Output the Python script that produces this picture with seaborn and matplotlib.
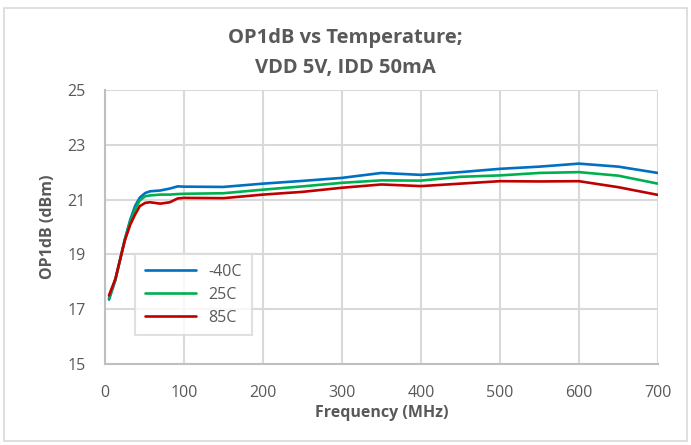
import matplotlib.pyplot as plt
import numpy as np
import pandas as pd
import seaborn as sns

freq = [5, 13, 19, 25, 32, 38, 44, 51, 57, 70, 82, 92, 100, 150, 200, 250,
        300, 350, 400, 450, 500, 550, 600, 650, 700]
t_m40 = [17.35, 18.05, 18.8, 19.55, 20.27, 20.76, 21.07, 21.24, 21.3, 21.33, 21.4, 21.48, 21.47,
         21.46, 21.58, 21.68, 21.79, 21.97, 21.9, 22.0, 22.12, 22.2, 22.31, 22.2, 21.97]
t_25 = [17.4, 18.07, 18.8, 19.52, 20.2, 20.64, 20.97, 21.12, 21.15, 21.18, 21.18, 21.2, 21.21,
        21.23, 21.36, 21.48, 21.61, 21.7, 21.69, 21.83, 21.88, 21.97, 22.0, 21.87, 21.58]
t_85 = [17.5, 18.1, 18.8, 19.5, 20.09, 20.45, 20.76, 20.88, 20.9, 20.85, 20.9, 21.04, 21.06,
        21.05, 21.18, 21.28, 21.43, 21.55, 21.49, 21.58, 21.67, 21.66, 21.67, 21.45, 21.17]
labels = ['-40C', '25C', '85C']
colors = ['#0070C0', '#00B050', '#C00000']

df = pd.DataFrame({
    'Frequency': freq * 3,
    'OP1dB': t_m40 + t_25 + t_85,
    'Temp': [l for l in labels for _ in freq],
})

sns.set_style('white')
plt.rcParams['font.family'] = ['Open Sans', 'DejaVu Sans']
txt = '#595959'

fig = plt.figure(figsize=(6.91, 4.45), dpi=100)
ax = fig.add_axes([0.152, 0.182, 0.8, 0.616])
sns.lineplot(data=df, x='Frequency', y='OP1dB', hue='Temp', palette=colors,
             linewidth=1.9, ax=ax)

ax.set_xlim(0, 700)
ax.set_ylim(15, 25)
ax.set_xticks(range(0, 701, 100))
ax.set_yticks(range(15, 26, 2))
ax.grid(True, color='#d9d9d9', linewidth=1.5)
ax.set_axisbelow(True)
for s in ['top', 'right']:
    ax.spines[s].set_visible(False)
for s in ['left', 'bottom']:
    ax.spines[s].set_color('#bfbfbf')
    ax.spines[s].set_linewidth(1.5)
ax.tick_params(length=0, labelsize=11.5, colors=txt)
ax.tick_params(axis='y', pad=14)
ax.tick_params(axis='x', pad=15)

ax.set_xlabel('Frequency (MHz)', fontsize=11.5, fontweight='bold', color=txt, labelpad=3)
ax.set_ylabel('OP1dB (dBm)', fontsize=11.5, fontweight='bold', color=txt, labelpad=8)
fig.text(0.5, 0.915, 'OP1dB vs Temperature;', ha='center', va='center', fontsize=14.5,
         fontweight='bold', color=txt)
fig.text(0.5, 0.848, 'VDD 5V, IDD 50mA', ha='center', va='center', fontsize=14.5,
         fontweight='bold', color=txt)

leg = ax.legend(loc='lower left', bbox_to_anchor=(0.04, 0.075), frameon=True,
                fancybox=False, fontsize=11.5, handlelength=3.2, borderpad=0.6,
                labelspacing=0.45)
leg.get_frame().set_edgecolor('#d9d9d9')
leg.get_frame().set_linewidth(1.5)
for t in leg.get_texts():
    t.set_color(txt)

fig.patches.append(plt.Rectangle((0.006, 0.008), 0.988, 0.975, transform=fig.transFigure,
                                 fill=False, edgecolor='#d9d9d9', linewidth=1.2))

fig.savefig('out.png', dpi=100)
